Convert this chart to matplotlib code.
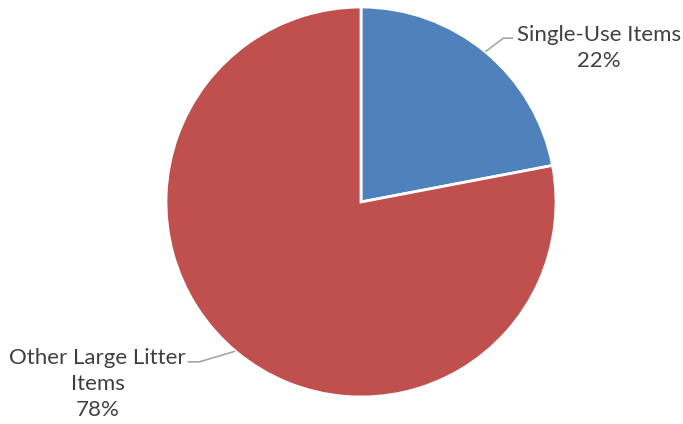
import numpy as np
import matplotlib
matplotlib.use("Agg")
import matplotlib.pyplot as plt

labels = ["Single-Use Items", "Other Large Litter\nItems"]
shares = [22, 78]
colors = ["#4F81BD", "#C0504D"]

plt.rcParams["font.family"] = ["Lato", "DejaVu Sans"]

W, H = 683, 424
fig = plt.figure(figsize=(W / 100, H / 100), dpi=100)
ax = fig.add_axes([166 / W, 27 / H, 390 / W, 390 / H])

wedges, _ = ax.pie(shares, colors=colors, startangle=90, counterclock=False,
                   radius=1.0, wedgeprops=dict(edgecolor="white", linewidth=2))
ax.set_xlim(-1.0, 1.0)
ax.set_ylim(-1.0, 1.0)
ax.set_aspect("equal")

# label placement: text position, elbow and edge angle
text_pos = [(1.22, 0.79), (-1.35, -0.935)]
elbow = [(0.73, 0.84), (-0.83, -0.82)]
edge_ang = [50.4, 229.9]

for lab, pct, (tx, ty), (ex, ey), ang in zip(labels, shares, text_pos, elbow, edge_ang):
    a = np.deg2rad(ang)
    px, py = np.cos(a), np.sin(a)
    hx = 0.78 if tx > 0 else -0.89
    ax.plot([px, ex, hx], [py, ey, ey], color="#A6A6A6", lw=1.2,
            clip_on=False, solid_capstyle="butt")
    ax.text(tx, ty, f"{lab}\n{pct}%", ha="center", va="center", fontsize=16,
            color="#404040", linespacing=1.38, clip_on=False)

fig.savefig("out.png", dpi=100)
